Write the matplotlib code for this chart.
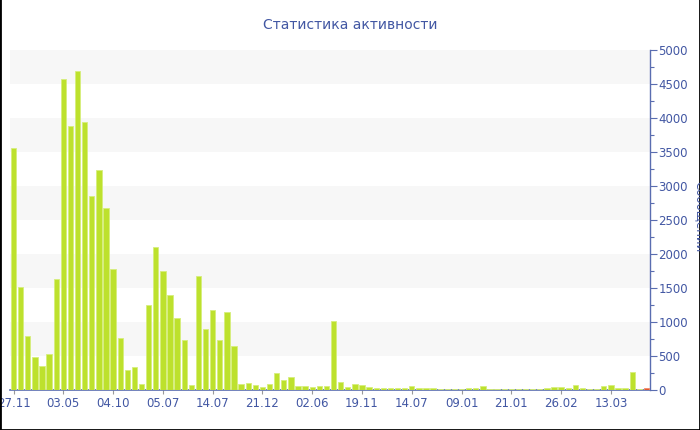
import matplotlib.pyplot as plt
from matplotlib.lines import Line2D
from matplotlib.ticker import MultipleLocator

# message counts per period
counts = [
    3560, 1510, 800, 480, 355, 530, 1630, 4570, 3880, 4690,
    3940, 2850, 3230, 2670, 1780, 770, 300, 340, 90, 1250,
    2110, 1750, 1400, 1060, 740, 70, 1680, 890, 1170, 730,
    1140, 650, 85, 110, 75, 40, 85, 245, 150, 190,
    65, 55, 45, 55, 55, 1020, 120, 40, 85, 80,
    38, 25, 25, 30, 25, 35, 60, 25, 35, 25,
    15, 15, 15, 20, 25, 25, 65, 20, 20, 20,
    20, 15, 15, 15, 15, 30, 45, 40, 30, 75,
    25, 15, 20, 60, 75, 25, 25, 265, 20, 30,
]
tick_labels = ["27.11", "03.05", "04.10", "05.07", "14.07", "21.12", "02.06",
               "19.11", "14.07", "09.01", "21.01", "26.02", "13.03"]
label_step = 7

title = "Статистика активности"
ylabel = "Сообщений"

blue = "#4257a3"
axis_blue = "#5a6db0"
green = "#bde12d"
edge_green = "#d6ee7c"
red = "#e4572e"

fig = plt.figure(figsize=(7, 4.3), dpi=100)
ax = fig.add_axes([10 / 700, 1 - 390 / 430, 640 / 700, 340 / 430])

x = list(range(len(counts)))
colors = [green] * (len(counts) - 1) + [red]
edges = [edge_green] * (len(counts) - 1) + ["#f08a6a"]
ax.bar(x, counts, width=0.76, color=colors, edgecolor=edges, linewidth=0.6, zorder=3)

# alternating background bands
for lo in range(500, 5000, 1000):
    ax.axhspan(lo, lo + 500, color="#f7f7f7", zorder=0, lw=0)

ax.set_xlim(-0.5, len(counts) - 0.5)
ax.set_ylim(0, 5000)

ax.yaxis.tick_right()
ax.yaxis.set_label_position("right")
ax.yaxis.set_major_locator(MultipleLocator(500))
ax.yaxis.set_minor_locator(MultipleLocator(250))
ax.tick_params(axis="y", which="major", length=5, width=0.8, color=axis_blue,
               labelcolor=blue, labelsize=8.5, pad=1)
ax.tick_params(axis="y", which="minor", length=3, width=0.8, color=axis_blue)

ax.set_xticks(x[::label_step])
ax.set_xticklabels(tick_labels)
ax.tick_params(axis="x", length=3, width=0.8, color="#999999",
               labelcolor=blue, labelsize=8.5, pad=2)

for side in ["top", "left"]:
    ax.spines[side].set_visible(False)
ax.spines["right"].set_color(axis_blue)
ax.spines["bottom"].set_color(axis_blue)
ax.spines["right"].set_linewidth(1)
ax.spines["bottom"].set_linewidth(1.2)
ax.set_facecolor("white")

fig.text(350 / 700, 1 - 25 / 430, title, ha="center", va="center",
         fontsize=10, color=blue)
fig.text(693 / 700, 1 - 217 / 430, ylabel, ha="left", va="center",
         rotation=270, fontsize=8.5, color=blue)

# outer frame (left, right, bottom)
frame = dict(color="black", lw=2, transform=fig.transFigure)
fig.add_artist(Line2D([0, 0], [0, 1], **frame))
fig.add_artist(Line2D([1, 1], [0, 1], **frame))
fig.add_artist(Line2D([0, 1], [0, 0], **frame))

fig.savefig("out.png", dpi=100)
